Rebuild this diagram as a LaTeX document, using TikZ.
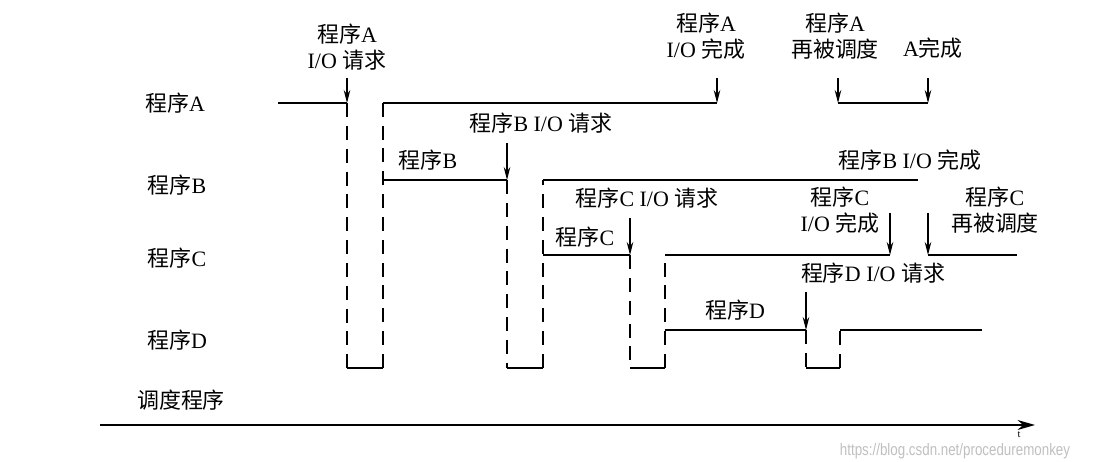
\documentclass[tikz,border=0pt]{standalone}
\usepackage{fontspec}
\setmainfont{Liberation Serif}
\newfontfamily\cjk{Noto Sans CJK SC}
\newfontfamily\wmfont{Liberation Sans}
\usetikzlibrary{arrows.meta,positioning}
\newcommand{\zh}[1]{{\cjk #1}}

\begin{document}
\begin{tikzpicture}[x=0.02cm,y=-0.02cm,
  lab/.style={font=\fontsize{12.5}{14.5}\selectfont,align=center,inner sep=1pt},
  run/.style={line width=1pt},
  wait/.style={line width=1pt,dash pattern=on 8pt off 5pt},
  arr/.style={-{Stealth[length=2.6mm,width=1.3mm]},line width=0.6pt},
  axis/.style={-{Stealth[length=3.5mm,width=2mm]},line width=0.8pt}]
  \useasboundingbox (0,0) rectangle (1100,462);
  \def\yA{103} \def\yB{180} \def\yC{255} \def\yD{330} \def\yS{368}
  % row labels
  \node[lab] (rowA) at (175,103) {\zh{程序}A};
  \node[lab] (rowB) at (177,185) {\zh{程序}B};
  \node[lab] (rowC) at (177,258) {\zh{程序}C};
  \node[lab] (rowD) at (177,340) {\zh{程序}D};
  \node[lab] (rowS) at (181,400) {\zh{调度程序}};
  % event labels
  \node[lab] (areq)  at (347,47)  {\zh{程序}A\\I/O \zh{请求}};
  \node[lab] (adone) at (706,36)  {\zh{程序}A\\I/O \zh{完成}};
  \node[lab] (aresc) at (835,36)  {\zh{程序}A\\\zh{再被调度}};
  \node[lab] (afin)  at (933,48)  {A\zh{完成}};
  \node[lab] (brun)  at (428,160) {\zh{程序}B};
  \node[lab] (breq)  at (541,123) {\zh{程序}B I/O \zh{请求}};
  \node[lab] (bdone) at (910,160) {\zh{程序}B I/O \zh{完成}};
  \node[lab] (creq)  at (647,198) {\zh{程序}C I/O \zh{请求}};
  \node[lab] (crun)  at (585,237) {\zh{程序}C};
  \node[lab] (cdone) at (840,210) {\zh{程序}C\\I/O \zh{完成}};
  \node[lab] (cresc) at (995,210) {\zh{程序}C\\\zh{再被调度}};
  \node[lab] (dreq)  at (873,273) {\zh{程序}D I/O \zh{请求}};
  \node[lab] (drun)  at (735,310) {\zh{程序}D};
  % program A
  \draw[run] (278,\yA) -- (347,\yA);
  \draw[wait] (347,\yA) -- (347,\yS);
  \draw[run] (347,\yS) -- (383,\yS);
  \draw[wait] (383,\yS) -- (383,\yA);
  \draw[run] (383,\yA) -- (717,\yA);
  \draw[run] (838,\yA) -- (928,\yA);
  % program B
  \draw[run] (383,\yB) -- (507,\yB);
  \draw[wait] (507,\yB) -- (507,\yS);
  \draw[run] (507,\yS) -- (543,\yS);
  \draw[wait] (543,\yS) -- (543,\yB);
  \draw[run] (543,\yB) -- (918,\yB);
  % program C
  \draw[run] (543,\yC) -- (630,\yC);
  \draw[wait] (630,\yC) -- (630,\yS);
  \draw[run] (630,\yS) -- (665,\yS);
  \draw[wait] (665,\yS) -- (665,\yC);
  \draw[run] (665,\yC) -- (890,\yC);
  \draw[run] (928,\yC) -- (1017,\yC);
  % program D
  \draw[run] (665,\yD) -- (806,\yD);
  \draw[wait] (806,\yD) -- (806,\yS);
  \draw[run] (806,\yS) -- (840,\yS);
  \draw[wait] (840,\yS) -- (840,\yD);
  \draw[run] (840,\yD) -- (982,\yD);
  % event arrows
  \draw[arr] (347,78) -- (347,\yA);
  \draw[arr] (717,78) -- (717,\yA);
  \draw[arr] (838,78) -- (838,\yA);
  \draw[arr] (928,78) -- (928,\yA);
  \draw[arr] (507,143) -- (507,\yB);
  \draw[arr] (630,218) -- (630,\yC);
  \draw[arr] (890,213) -- (890,\yC);
  \draw[arr] (928,213) -- (928,\yC);
  \draw[arr] (806,292) -- (806,\yD);
  % time axis
  \coordinate (t0) at (100,425);
  \coordinate (t1) at (1035,425);
  \draw[axis] (t0) -- (t1);
  \node[font=\fontsize{6}{7}\selectfont,inner sep=0pt] (tlab) at (1019,435) {t};
  \node[font=\wmfont\fontsize{9.5}{10}\selectfont,text=black!25,xscale=0.8,inner sep=0pt] (wm) at (955,451) {https://blog.csdn.net/proceduremonkey};
\end{tikzpicture}
\end{document}
